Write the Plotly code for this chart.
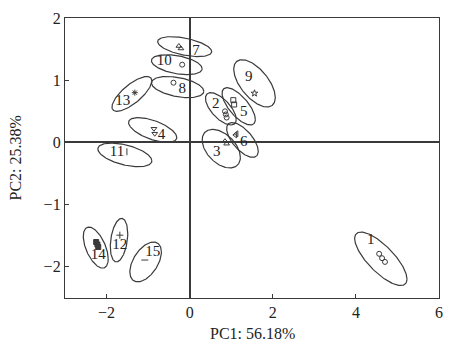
import numpy as np
import plotly.graph_objects as go

# ---- data ----
groups = ["1", "2", "3", "4", "5", "6", "7", "8", "9", "10", "11", "12", "13", "14", "15"]

# ellipse centre, half-width (x), half-height (y) and correlation (tilt)
ell_cx = [4.60, 0.75, 0.76, -0.89, 1.18, 1.27, -0.12, -0.29, 1.56, -0.31, -1.56, -1.70, -1.39, -2.26, -1.06]
ell_cy = [-1.87, 0.54, -0.10, 0.20, 0.58, 0.04, 1.54, 0.89, 0.95, 1.25, -0.20, -1.57, 0.78, -1.69, -1.92]
ell_rx = [0.63, 0.37, 0.46, 0.58, 0.40, 0.38, 0.65, 0.63, 0.50, 0.61, 0.65, 0.21, 0.48, 0.30, 0.38]
ell_ry = [0.43, 0.26, 0.31, 0.20, 0.30, 0.28, 0.16, 0.17, 0.38, 0.16, 0.19, 0.35, 0.28, 0.33, 0.32]
ell_rho = [-0.76, -0.65, -0.45, -0.6, -0.7, -0.65, -0.5, -0.4, -0.6, -0.4, -0.5, 0.3, 0.75, -0.55, 0.5]

# label positions
label_x = [4.36, 0.63, 0.65, -0.68, 1.30, 1.30, 0.15, -0.18, 1.42, -0.61, -1.75, -1.68, -1.61, -2.20, -0.89]
label_y = [-1.57, 0.61, -0.15, 0.12, 0.48, 0.00, 1.46, 0.85, 1.04, 1.30, -0.15, -1.65, 0.66, -1.81, -1.76]

# sample scores
pts_x = [[4.56, 4.63, 4.70], [0.85, 0.87, 0.89], [0.85, 0.89], [-0.86, -0.84], [1.05, 1.07],
         [1.10, 1.13], [-0.26, -0.21], [-0.39], [1.56], [-0.18], [-1.51], [-1.68], [-1.32],
         [-2.25, -2.22, -2.20], [-1.08]]
pts_y = [[-1.79, -1.86, -1.92], [0.50, 0.45, 0.40], [0.02, -0.02], [0.22, 0.14], [0.68, 0.61],
         [0.12, 0.14], [1.55, 1.51], [0.96], [0.79], [1.25], [-0.15], [-1.49], [0.80],
         [-1.60, -1.64, -1.68], [-1.89]]
symbols = ["circle-open", "circle-open", "triangle-up-open", "triangle-down-open", "square-open",
           "triangle-left-open", "triangle-up-open", "circle-open", "star-open", "circle-open",
           "line-ns-open", "cross-thin-open", "asterisk-open", "square", "line-ew-open"]

x_ticks = [-2, 0, 2, 4, 6]
y_ticks = [-2, -1, 0, 1, 2]
x_title = "PC1: 56.18%"
y_title = "PC2: 25.38%"

# ---- figure ----
ink = "#3a3a3a"
font_family = "Liberation Serif, Times New Roman, serif"
fig = go.Figure()

t = np.linspace(0, 2 * np.pi, 200)
for i in range(len(groups)):
    r = ell_rho[i]
    ex = ell_cx[i] + ell_rx[i] * np.cos(t)
    ey = ell_cy[i] + ell_ry[i] * (r * np.cos(t) + np.sqrt(1 - r * r) * np.sin(t))
    fig.add_trace(go.Scatter(x=ex, y=ey, mode="lines", line=dict(color=ink, width=1.2),
                             hoverinfo="skip", showlegend=False))
    fig.add_trace(go.Scatter(x=pts_x[i], y=pts_y[i], mode="markers",
                             marker=dict(symbol=symbols[i], size=5, color=ink,
                                         line=dict(color=ink, width=1)),
                             showlegend=False, name=groups[i]))

fig.add_trace(go.Scatter(x=label_x, y=label_y, mode="text", text=groups,
                         textfont=dict(family=font_family, size=15, color="#222"),
                         showlegend=False, hoverinfo="skip"))

axis_common = dict(showgrid=False, showline=True, linecolor=ink, linewidth=1.3, mirror=True,
                   ticks="inside", ticklen=4, tickcolor=ink, tickwidth=1.2,
                   zeroline=True, zerolinecolor=ink, zerolinewidth=1.5,
                   tickfont=dict(family=font_family, size=16, color="#222"))

fig.update_xaxes(range=[-3, 6], tickvals=x_ticks, ticktext=["\u22122", "0", "2", "4", "6"],
                 **axis_common)
fig.update_yaxes(range=[-2.5, 2], tickvals=y_ticks, ticktext=["\u22122", "\u22121", "0", "1", "2"],
                 **axis_common)

fig.add_annotation(text=x_title, xref="paper", yref="paper", x=0.5, y=-0.088, yanchor="top",
                   showarrow=False, font=dict(family=font_family, size=16, color="#222"))
fig.add_annotation(text=y_title, xref="paper", yref="paper", x=-0.135, y=0.5, textangle=-90,
                   xanchor="center", showarrow=False,
                   font=dict(family=font_family, size=16, color="#222"))

fig.update_layout(width=449, height=344, margin=dict(l=65, r=6, t=18, b=46),
                  plot_bgcolor="white", paper_bgcolor="white")

fig.write_html("out.html", config={"displayModeBar": False},
               post_script="document.body.style.margin='0';document.body.style.padding='0';"
                           "document.body.style.overflow='hidden';")
